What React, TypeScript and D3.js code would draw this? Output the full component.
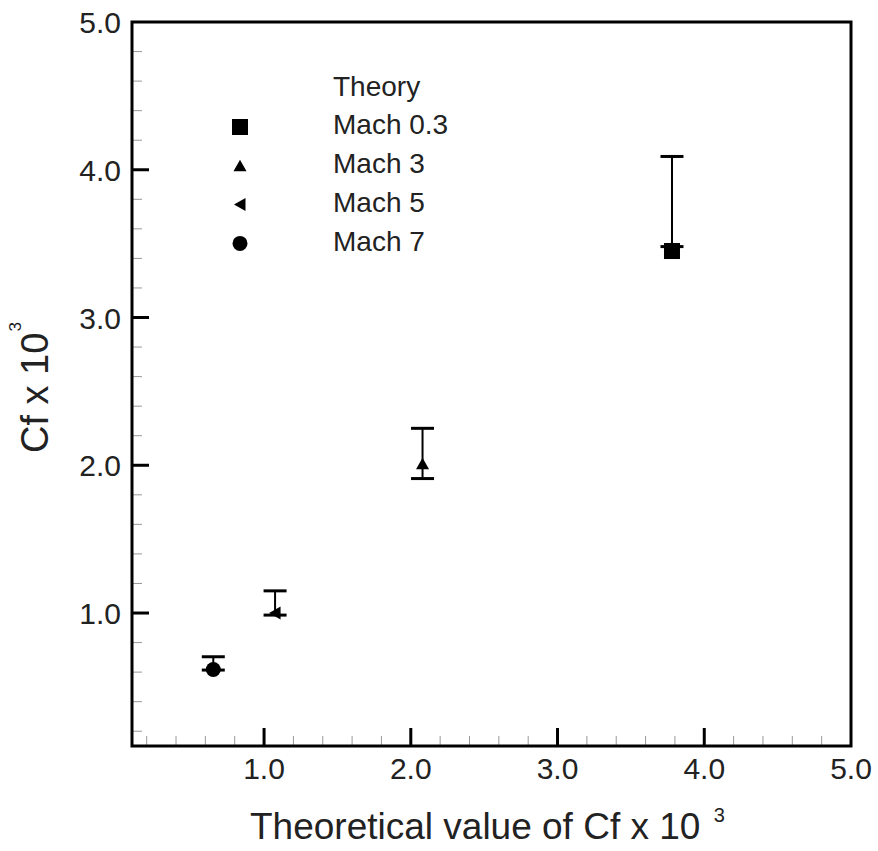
import React from "react";
import * as d3 from "d3";

const seriesLabels = ["Mach 0.3", "Mach 3", "Mach 5", "Mach 7"];
const seriesShapes = ["square", "triangleUp", "triangleLeft", "circle"];
const theoryCf = [3.78, 2.08, 1.075, 0.654];
const measuredCf = [3.45, 2.01, 1.0, 0.618];
const errorLow = [3.48, 1.91, 0.986, 0.614];
const errorHigh = [4.09, 2.25, 1.15, 0.704];
const majorTicks = [1.0, 2.0, 3.0, 4.0, 5.0];
const minorTicks = [0.2, 0.4, 0.6, 0.8, 1.2, 1.4, 1.6, 1.8, 2.2, 2.4, 2.6, 2.8, 3.2, 3.4, 3.6, 3.8, 4.2, 4.4, 4.6, 4.8];

const W = 878;
const H = 851;
const L = 132, R = 851, T = 22, B = 746;
const FONT = "'Liberation Sans', Arial, Helvetica, sans-serif";

function Marker({ shape, cx, cy }: { shape: string; cx: number; cy: number }) {
  if (shape === "square") {
    return <rect x={cx - 8} y={cy - 8} width={16} height={16} fill="#000" />;
  }
  if (shape === "triangleUp") {
    return <path d={`M${cx},${cy - 6} L${cx + 6.5},${cy + 5.5} L${cx - 6.5},${cy + 5.5} Z`} fill="#000" />;
  }
  if (shape === "triangleLeft") {
    return <path d={`M${cx - 6},${cy} L${cx + 5.5},${cy - 6.5} L${cx + 5.5},${cy + 6.5} Z`} fill="#000" />;
  }
  return <circle cx={cx} cy={cy} r={7.5} fill="#000" />;
}

export default function App() {
  const x = d3.scaleLinear().domain([0.1, 5.0]).range([L, R]);
  const y = d3.scaleLinear().domain([0.1, 5.0]).range([B, T]);
  const fmt = d3.format(".1f");
  const capHalf = 11.5;

  return (
    <svg
      width={W}
      height={H}
      style={{ position: "absolute", left: 0, top: 0, background: "#fff" }}
      fontFamily={FONT}
    >
      {minorTicks.map((t) => (
        <line key={"xm" + t} x1={x(t)} x2={x(t)} y1={B} y2={B - 10} stroke="#999" strokeWidth={1} />
      ))}
      {minorTicks.map((t) => (
        <line key={"ym" + t} x1={L} x2={L + 10} y1={y(t)} y2={y(t)} stroke="#999" strokeWidth={1} />
      ))}
      {majorTicks.slice(0, 4).map((t) => (
        <line key={"xM" + t} x1={x(t)} x2={x(t)} y1={B} y2={B - 18} stroke="#000" strokeWidth={3} />
      ))}
      {majorTicks.slice(0, 4).map((t) => (
        <line key={"yM" + t} x1={L} x2={L + 17} y1={y(t)} y2={y(t)} stroke="#000" strokeWidth={3} />
      ))}
      <rect x={L} y={T} width={R - L} height={B - T} fill="none" stroke="#000" strokeWidth={3} />
      {majorTicks.map((t) => (
        <text key={"xl" + t} x={x(t)} y={779} textAnchor="middle" fontSize={30} fill="#222">
          {fmt(t)}
        </text>
      ))}
      {majorTicks.map((t) => (
        <text key={"yl" + t} x={121} y={y(t) + 11} textAnchor="end" fontSize={30} fill="#222">
          {fmt(t)}
        </text>
      ))}
      <text x={250} y={839} fontSize={37} fill="#222">
        {"Theoretical value of Cf x 10 "}
        <tspan fontSize={20} dx={3} dy={-17}>3</tspan>
      </text>
      <text transform="translate(48,453) rotate(-90)" fontSize={38} fill="#222">
        {"Cf x 10"}
        <tspan fontSize={17} dx={1} dy={-27}>3</tspan>
      </text>
      {theoryCf.map((tx, i) => (
        <g key={"eb" + i} stroke="#000">
          <line x1={x(tx)} x2={x(tx)} y1={y(errorLow[i])} y2={y(errorHigh[i])} strokeWidth={2} />
          <line x1={x(tx) - capHalf} x2={x(tx) + capHalf} y1={y(errorHigh[i])} y2={y(errorHigh[i])} strokeWidth={3} />
          <line x1={x(tx) - capHalf} x2={x(tx) + capHalf} y1={y(errorLow[i])} y2={y(errorLow[i])} strokeWidth={3} />
        </g>
      ))}
      {theoryCf.map((tx, i) => (
        <Marker key={"pt" + i} shape={seriesShapes[i]} cx={x(tx)} cy={y(measuredCf[i])} />
      ))}
      <text x={333} y={96} fontSize={28} fill="#222">Theory</text>
      {seriesLabels.map((lab, i) => (
        <g key={"lg" + i}>
          <Marker shape={seriesShapes[i]} cx={240} cy={127 + i * 38.8} />
          <text x={333} y={134 + i * 39} fontSize={28} fill="#222">
            {lab}
          </text>
        </g>
      ))}
    </svg>
  );
}
